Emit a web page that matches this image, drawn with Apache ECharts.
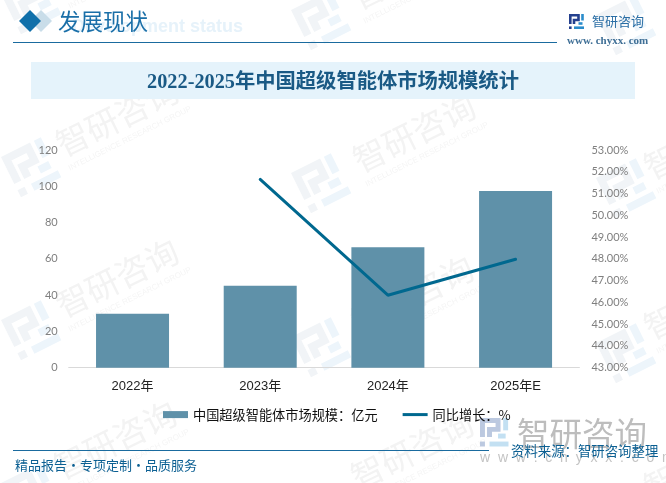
<!DOCTYPE html>
<html>
<head>
<meta charset="utf-8">
<style>
  html, body { margin: 0; padding: 0; background: #fff; }
  #main { width: 666px; height: 483px; }
</style>
<script src="https://cdn.jsdelivr.net/npm/echarts@6/dist/echarts.min.js"></script>
</head>
<body>
<div id="main"></div>
<script>
var years = ['2022年', '2023年', '2024年', '2025年E'];
var marketSize = [29.7, 45.2, 66.4, 97.4];
var growthRate = [null, 51.65, 46.33, 47.98];
var barName = '中国超级智能体市场规模：亿元';
var lineName = '同比增长：%';
var chartTitle = '2022-2025年中国超级智能体市场规模统计';

var cjk = '"Noto Sans CJK SC"';
var markTilt = 0.46;

// the company logo, two interlocked pieces
function logo(x, y, s, left, right, rotation) {
  var w = 2.6;
  function piece(points, color) {
    return {
      type: 'polyline',
      shape: { points: points },
      style: { stroke: color, lineWidth: w, fill: null }
    };
  }
  function dot(px, py, color) {
    return { type: 'rect', shape: { x: px, y: py, width: 2.6, height: 2.6 }, style: { fill: color } };
  }
  return {
    type: 'group',
    x: x,
    y: y,
    scaleX: s,
    scaleY: s,
    rotation: rotation || 0,
    z: 1,
    children: [
      piece([[1.3, 10], [1.3, 1.3], [9.5, 1.3], [9.5, 6], [5, 6], [5, 10]], left),
      dot(0, 12.4, left),
      piece([[13.5, 0], [13.5, 6.5]], right),
      piece([[9.5, 9.5], [13.5, 9.5]], right),
      piece([[5, 13.7], [15, 13.7]], right)
    ]
  };
}

function watermark(x, y) {
  return {
    type: 'group',
    x: x,
    y: y,
    rotation: markTilt,
    z: 1,
    children: [
      {
        type: 'text',
        style: {
          text: '智研咨询', x: 0, y: 0, fill: '#f3f3f3',
          font: '33px ' + cjk, align: 'center', verticalAlign: 'middle'
        }
      },
      {
        type: 'text',
        style: {
          text: 'INTELLIGENCE RESEARCH GROUP', x: 2, y: 25, fill: '#f5f5f5',
          font: '8px "Liberation Sans"', align: 'center', verticalAlign: 'middle'
        }
      }
    ]
  };
}

var textCenters = [
  [117, -45], [117, 117], [117, 278], [115, 440],
  [412, -30], [414, 133], [412, 295], [412, 450],
  [705, 140], [705, 300], [705, 460]
];
var logoSpots = [
  [1, -6], [1, 157], [1, 320], [1, 483],
  [291, 10], [291, 173], [291, 337],
  [596, 15], [596, 178], [596, 343]
];

var graphics = [];
textCenters.forEach(function (p) {
  graphics.push(watermark(p[0], p[1]));
});
logoSpots.forEach(function (p) {
  graphics.push(logo(p[0], p[1], 3, '#f1f4f7', '#edf5fb', markTilt));
});

graphics.push(
  // header
  { type: 'text', z: 2, style: { text: 'Development status', x: 243, y: 27, fill: '#e6f2fa', font: 'bold 18px "Liberation Sans"', align: 'right', verticalAlign: 'middle' } },
  { type: 'polygon', z: 3, shape: { points: [[41, 10], [52, 21], [41, 32], [30, 21]] }, style: { fill: '#c9dde9' } },
  { type: 'polygon', z: 3, shape: { points: [[30, 10], [41, 21], [30, 32], [19, 21]] }, style: { fill: '#1070aa' } },
  { type: 'text', z: 3, style: { text: '发展现状', x: 58, y: 21, fill: '#1a6fa8', font: '22.5px ' + cjk, align: 'left', verticalAlign: 'middle' } },
  { type: 'line', z: 3, shape: { x1: 13, y1: 42.5, x2: 557, y2: 42.5 }, style: { stroke: '#1a6b9f', lineWidth: 1 } },
  logo(569, 14, 1, '#24408e', '#2a8ccb'),
  { type: 'text', z: 3, style: { text: '智研咨询', x: 592, y: 21, fill: '#2a6ea5', font: '13px ' + cjk, align: 'left', verticalAlign: 'middle' } },
  { type: 'text', z: 3, style: { text: 'www. chyxx. com', x: 567, y: 41, fill: '#3f6f96', font: 'bold 11px "Liberation Serif"', align: 'left', verticalAlign: 'middle' } },
  // title band
  { type: 'rect', z: 2, shape: { x: 31, y: 62, width: 604, height: 37 }, style: { fill: '#e5f3fb' } },
  { type: 'text', z: 3, style: { text: chartTitle, x: 333, y: 83, fill: '#1a5a85', font: 'bold 20.3px "Liberation Serif", ' + cjk, align: 'center', verticalAlign: 'middle' } },
  // footer
  logo(480, 418, 1.9, '#bcc9e0', '#c3e0f2'),
  { type: 'text', z: 3, style: { text: '智研咨询', x: 517, y: 434, fill: '#bdbdbd', font: '32.5px ' + cjk, align: 'left', verticalAlign: 'middle' } },
  { type: 'text', z: 3, style: { text: 'w  w  w  .  c  h  y  x  x  .  c  o  m', x: 480, y: 458, fill: '#c4c4c4', font: '14px "Liberation Sans"', align: 'left', verticalAlign: 'middle' } },
  { type: 'line', z: 3, shape: { x1: 13, y1: 450.5, x2: 489, y2: 450.5 }, style: { stroke: '#1a6b9f', lineWidth: 1 } },
  { type: 'text', z: 4, style: { text: '精品报告·专项定制·品质服务', x: 15, y: 465, fill: '#0b5f92', font: '13px ' + cjk, align: 'left', verticalAlign: 'middle' } },
  { type: 'text', z: 4, style: { text: '资料来源：智研咨询整理', x: 511, y: 451, fill: '#0b5f92', font: '13.4px ' + cjk, align: 'left', verticalAlign: 'middle' } }
);

var chart = echarts.init(document.getElementById('main'), null, { renderer: 'canvas' });

chart.setOption({
  animation: false,
  backgroundColor: '#fff',
  graphic: { elements: graphics },
  legend: {
    left: 158,
    top: 403,
    itemWidth: 25,
    itemHeight: 7,
    itemGap: 25,
    textStyle: { color: '#111', fontSize: 13.2, fontFamily: cjk },
    data: [
      { name: barName, icon: 'rect' },
      { name: lineName, icon: 'path://M0,0L0,0M0,2H25V5H0ZM0,7L0,7' }
    ]
  },
  grid: { left: 68.7, right: 86.6, top: 150, bottom: 115.3 },
  xAxis: {
    type: 'category',
    data: years,
    axisTick: { show: false },
    axisLine: { lineStyle: { color: '#d9d9d9', width: 1 } },
    axisLabel: { color: '#222', fontSize: 13, margin: 12, fontFamily: '"Liberation Sans", ' + cjk }
  },
  yAxis: [
    {
      type: 'value',
      min: 0,
      max: 120,
      interval: 20,
      splitLine: { show: false },
      axisLine: { show: false },
      axisTick: { show: false },
      axisLabel: { color: '#7f7f7f', fontSize: 11, margin: 11, fontFamily: 'Lato' }
    },
    {
      type: 'value',
      min: 43,
      max: 53,
      interval: 1,
      splitLine: { show: false },
      axisLine: { show: false },
      axisTick: { show: false },
      axisLabel: {
        color: '#7f7f7f',
        fontSize: 11,
        margin: 12,
        fontFamily: 'Lato',
        formatter: function (v) { return v.toFixed(2) + '%'; }
      }
    }
  ],
  series: [
    {
      name: barName,
      type: 'bar',
      barWidth: 73,
      itemStyle: { color: '#5f91a9' },
      data: marketSize
    },
    {
      name: lineName,
      type: 'line',
      yAxisIndex: 1,
      symbol: 'none',
      connectNulls: false,
      lineStyle: { color: '#00688f', width: 3, cap: 'round' },
      itemStyle: { color: '#00688f' },
      data: growthRate
    }
  ]
});
</script>
</body>
</html>
